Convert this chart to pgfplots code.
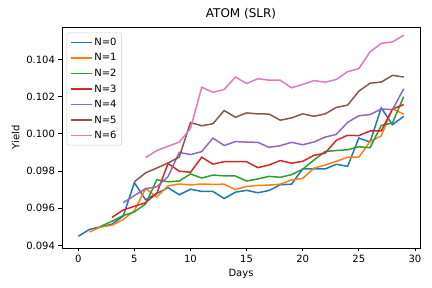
\documentclass[border=0pt]{standalone}
\usepackage{fontspec}
\setmainfont{DejaVu Sans}
\usepackage{pgfplots}
\pgfplotsset{compat=1.18}
\definecolor{C0}{HTML}{1F77B4}
\definecolor{C1}{HTML}{FF7F0E}
\definecolor{C2}{HTML}{2CA02C}
\definecolor{C3}{HTML}{D62728}
\definecolor{C4}{HTML}{9467BD}
\definecolor{C5}{HTML}{8C564B}
\definecolor{C6}{HTML}{E377C2}
\begin{document}
\begin{tikzpicture}
\path (-62pt,-40pt) rectangle (370pt,248pt);
\begin{axis}[
  at={(0,0)}, anchor=south west,
  scale only axis, width=358pt, height=221pt,
  xmin=-1.45, xmax=30.45, ymin=0.09386, ymax=0.10574,
  xtick={0,5,10,15,20,25,30},
  ytick={0.094,0.096,0.098,0.100,0.102,0.104},
  yticklabels={0.094,0.096,0.098,0.100,0.102,0.104},
  tick align=outside, major tick length=3.5pt,
  xtick pos=bottom, ytick pos=left,
  tick style={black, line width=0.8pt},
  axis line style={line width=0.8pt},
  /pgf/number format/assume math mode=true,
  tick label style={font=\fontsize{10}{12}\selectfont},
  label style={font=\fontsize{10}{12}\selectfont},
  title style={font=\fontsize{12}{14}\selectfont, yshift=-2pt},
  title={ATOM (SLR)},
  xlabel={Days}, ylabel={Yield},
  legend style={at={(0.013,0.974)}, anchor=north west, draw=black!20, rounded corners=2pt,
    fill=white, font=\fontsize{10}{12}\selectfont, row sep=2.7pt, inner xsep=3pt, inner ysep=3pt},
  legend cell align=left,
  legend image code/.code={\draw[#1, line width=1.5pt] (0pt,0pt) -- (21pt,0pt);},
  every axis plot/.append style={line width=1.5pt},
]
\addplot[C0] table {
0 0.09449
1 0.09486
2 0.09500
3 0.09514
4 0.09557
5 0.09737
6 0.09645
7 0.09680
8 0.09710
9 0.09672
10 0.09702
11 0.09690
12 0.09690
13 0.09652
14 0.09686
15 0.09696
16 0.09683
17 0.09695
18 0.09726
19 0.09729
20 0.09811
21 0.09811
22 0.09811
23 0.09836
24 0.09825
25 0.09977
26 0.09956
27 0.10139
28 0.10049
29 0.10094
};
\addlegendentry{N=0}
\addplot[C1] table {
1 0.09472
2 0.09499
3 0.09508
4 0.09539
5 0.09586
6 0.09706
7 0.09660
8 0.09720
9 0.09730
10 0.09725
11 0.09730
12 0.09728
13 0.09729
14 0.09700
15 0.09717
16 0.09722
17 0.09724
18 0.09729
19 0.09752
20 0.09760
21 0.09815
22 0.09832
23 0.09852
24 0.09874
25 0.09874
26 0.09958
27 0.09989
28 0.10135
29 0.10105
};
\addlegendentry{N=1}
\addplot[C2] table {
2 0.09502
3 0.09530
4 0.09560
5 0.09580
6 0.09623
7 0.09753
8 0.09742
9 0.09746
10 0.09784
11 0.09762
12 0.09778
13 0.09774
14 0.09773
15 0.09746
16 0.09757
17 0.09771
18 0.09766
19 0.09780
20 0.09810
21 0.09859
22 0.09905
23 0.09910
24 0.09914
25 0.09930
26 0.09925
27 0.10045
28 0.10058
29 0.10200
};
\addlegendentry{N=2}
\addplot[C3] table {
3 0.09550
4 0.09590
5 0.09610
6 0.09630
7 0.09680
8 0.09840
9 0.09799
10 0.09793
11 0.09874
12 0.09837
13 0.09850
14 0.09850
15 0.09850
16 0.09818
17 0.09832
18 0.09856
19 0.09842
20 0.09852
21 0.09884
22 0.09896
23 0.09965
24 0.09992
25 0.09990
26 0.10015
27 0.10016
28 0.10133
29 0.10157
};
\addlegendentry{N=3}
\addplot[C4] table {
4 0.09629
5 0.09668
6 0.09705
7 0.09715
8 0.09770
9 0.09900
10 0.09888
11 0.09904
12 0.09977
13 0.09937
14 0.09958
15 0.09955
16 0.09954
17 0.09927
18 0.09936
19 0.09954
20 0.09941
21 0.09956
22 0.09982
23 0.09997
24 0.10061
25 0.10097
26 0.10103
27 0.10133
28 0.10130
29 0.10242
};
\addlegendentry{N=4}
\addplot[C5] table {
5 0.09742
6 0.09790
7 0.09816
8 0.09843
9 0.09875
10 0.10061
11 0.10043
12 0.10054
13 0.10125
14 0.10089
15 0.10112
16 0.10107
17 0.10106
18 0.10073
19 0.10085
20 0.10107
21 0.10094
22 0.10107
23 0.10142
24 0.10154
25 0.10229
26 0.10272
27 0.10278
28 0.10314
29 0.10305
};
\addlegendentry{N=5}
\addplot[C6] table {
6 0.09872
7 0.09910
8 0.09933
9 0.09955
10 0.10028
11 0.10250
12 0.10223
13 0.10238
14 0.10305
15 0.10270
16 0.10296
17 0.10288
18 0.10288
19 0.10247
20 0.10265
21 0.10286
22 0.10277
23 0.10292
24 0.10334
25 0.10350
26 0.10440
27 0.10486
28 0.10494
29 0.10530
};
\addlegendentry{N=6}
\end{axis}
\end{tikzpicture}
\end{document}
